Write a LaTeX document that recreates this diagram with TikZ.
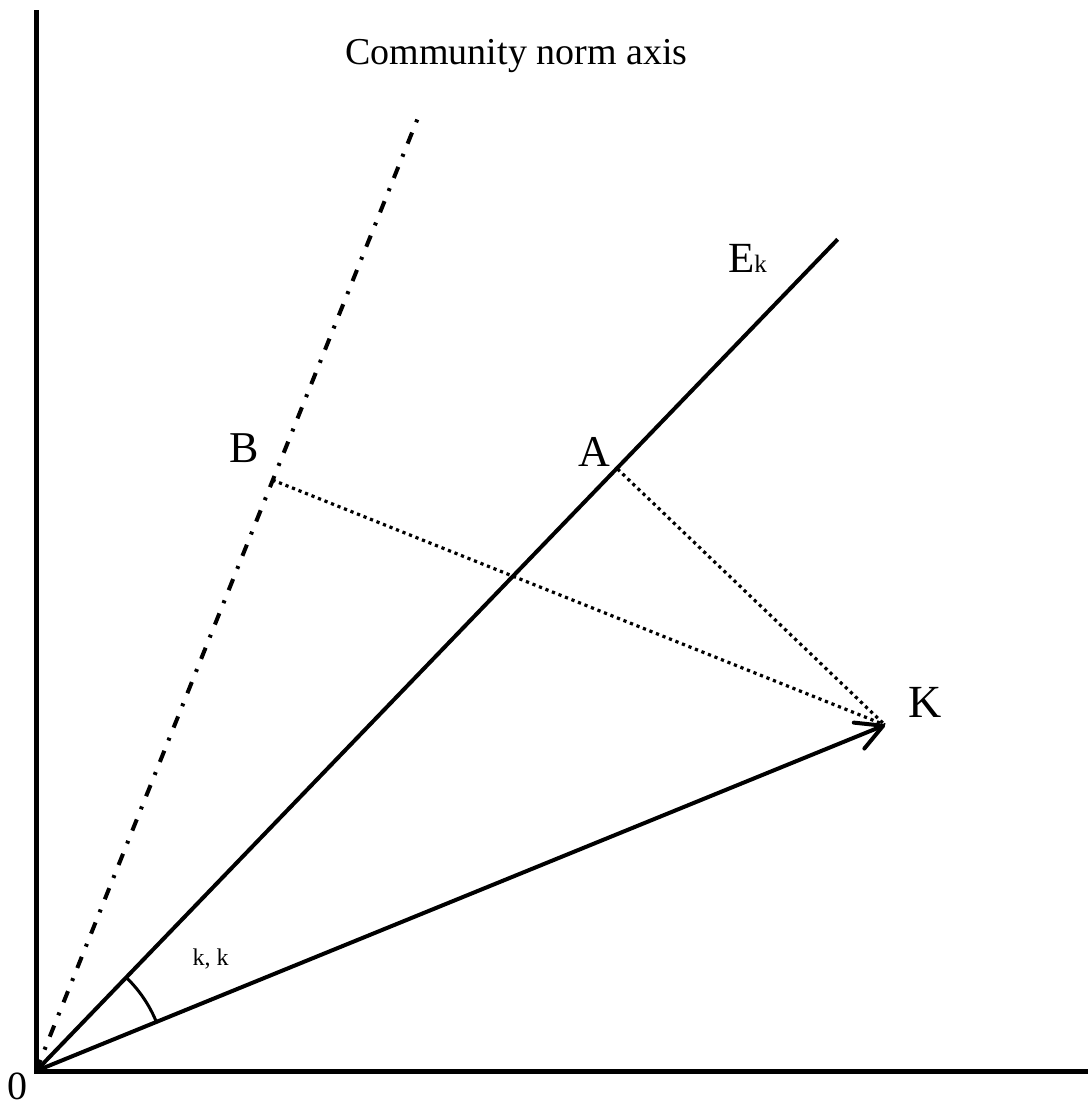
\documentclass[tikz,border=0pt]{standalone}
\usepackage{fontspec}
\setmainfont{Liberation Serif}
\usetikzlibrary{arrows.meta,angles}
\tikzset{
  axisline/.style={line width=5pt,line join=miter},
  mainline/.style={line width=4pt},
  normline/.style={line width=4pt,dash pattern=on 12pt off 11pt on 3pt off 11pt},
  dotline/.style={line width=3.2pt,dash pattern=on 3.2pt off 3.8pt},
  lbl/.style={inner sep=0pt,anchor=base,font=\fontsize{44}{48}\selectfont},
}
\begin{document}
\begin{tikzpicture}[x=1pt,y=-1pt]
\useasboundingbox[fill=white] (0,0) rectangle (1088,1106);
\coordinate (O) at (36,1071);
\coordinate (T) at (36,10);
\coordinate (R) at (1088,1071);
\coordinate (C) at (420,112.7);
\coordinate (E) at (837.7,239.3);
\coordinate (K) at (885,725);
\coordinate (A) at (617.5,469);
\coordinate (B) at (272.5,480);
% axes
\draw[axisline] (T) -- (O) -- (R);
% community norm axis
\draw[normline] (O) -- (C);
% E_k line
\draw[mainline] (O) -- (E);
% dotted projections
\draw[dotline] (B) -- (K);
\draw[dotline] (A) -- (K);
% vector OK
\draw[mainline,-{Straight Barb[length=26pt,width=28pt,round]}] (O) -- (K);
% angle
\pic[draw,line width=3pt,angle radius=130pt] {angle=K--O--E};
% labels
\node[lbl,font=\fontsize{38}{42}\selectfont] (tcn) at (516.5,64) {Community norm axis};
\node[inner sep=0pt,anchor=base west] (tek) at (728,272) {\fontsize{43}{46}\selectfont E\fontsize{25}{28}\selectfont k};
\node[lbl] (tb) at (244.5,462) {B};
\node[lbl] (ta) at (594.5,466) {A};
\node[lbl,font=\fontsize{46}{50}\selectfont] (tk) at (925,717) {K};
\node[lbl,font=\fontsize{24}{28}\selectfont] (tkk) at (210.5,965) {k, k};
\node[lbl,font=\fontsize{40}{44}\selectfont] (t0) at (18,1099) {0};
\end{tikzpicture}
\end{document}
